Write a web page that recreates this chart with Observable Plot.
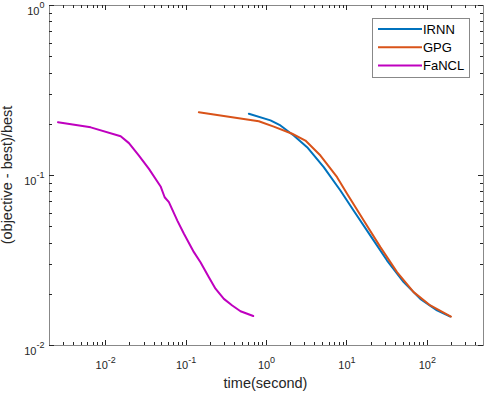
<!DOCTYPE html>
<html><head><meta charset="utf-8">
<script src="https://cdn.jsdelivr.net/npm/d3@7"></script>
<script src="https://cdn.jsdelivr.net/npm/@observablehq/plot@0.6"></script>
<style>body{margin:0;background:#fff} #chart{width:485px;height:393px}</style>
</head><body><div id="chart"></div>
<script>
const series = ["IRNN", "GPG", "FaNCL"];
const colors = ["#0072BD", "#D95319", "#BF00BF"];

const irnnTime  = [0.603, 1.121, 1.49, 2.18, 3.20, 5.15, 8.30, 12.1, 19.6, 31.6, 50.8, 81.8, 132, 193];
const irnnValue = [0.2307, 0.211, 0.197, 0.172, 0.1467, 0.112, 0.0816, 0.0623, 0.0443, 0.0316, 0.0236, 0.0188, 0.0161, 0.0148];

const gpgTime  = [0.144, 0.802, 1.232, 2.085, 3.05, 4.69, 7.55, 10.05, 16.2, 26.1, 42.0, 67.6, 109, 197];
const gpgValue = [0.2357, 0.2086, 0.194, 0.176, 0.1606, 0.131, 0.0977, 0.078, 0.0543, 0.0379, 0.0270, 0.0206, 0.0172, 0.0148];

const fanclTime  = [0.00255, 0.00651, 0.01536, 0.01946, 0.0259, 0.0345, 0.0482, 0.0541, 0.0611, 0.0778, 0.094, 0.125, 0.151, 0.192, 0.232, 0.295, 0.375, 0.475, 0.684];
const fanclValue = [0.206, 0.192, 0.170, 0.155, 0.131, 0.1094, 0.0862, 0.0745, 0.0697, 0.0543, 0.0454, 0.0354, 0.0309, 0.0252, 0.0216, 0.0188, 0.0172, 0.0159, 0.0149];

const xTicks = [0.01, 0.1, 1, 10, 100];
const xTickLabels = ["10^-2", "10^-1", "10^0", "10^1", "10^2"];
const yTicks = [0.01, 0.1, 1];
const yTickLabels = ["10^-2", "10^-1", "10^0"];
const xDomain = [0.002, 500];
const yDomain = [0.01, 1];
const xLabel = "time(second)";
const yLabel = "(objective - best)/best";

const times = [irnnTime, gpgTime, fanclTime];
const values = [irnnValue, gpgValue, fanclValue];
const rows = series.flatMap((s, i) => times[i].map((t, j) => ({series: s, time: t, value: values[i][j]})));

function minors(domain) {
  const out = [];
  for (let e = -4; e <= 3; e++) for (let k = 2; k <= 9; k++) {
    const v = k * Math.pow(10, e);
    if (v > domain[0] && v < domain[1]) out.push(v);
  }
  return out;
}
const xMinor = minors(xDomain), yMinor = minors(yDomain);

const W = 485, H = 393, ML = 49, MR = 2, MT = 5, MB = 48;
const tickStroke = "#262626";
const MAJ = 5, MIN = 3;

const chart = Plot.plot({
  width: W, height: H,
  marginLeft: ML, marginRight: MR, marginTop: MT, marginBottom: MB,
  style: {fontFamily: "'Liberation Sans', Arial, sans-serif", fontSize: "11px", color: "#262626"},
  x: {type: "log", domain: xDomain},
  y: {type: "log", domain: yDomain},
  color: {domain: series, range: colors},
  marks: [
    Plot.axisX({anchor: "bottom", ticks: xTicks, tickSize: 0, tickPadding: 16, tickFormat: (d) => xTickLabels[xTicks.indexOf(d)], label: null}),
    Plot.axisY({anchor: "left", ticks: yTicks, tickSize: 0, tickPadding: 5, dy: 5.5, tickFormat: (d) => yTickLabels[yTicks.indexOf(d)], label: null}),
    Plot.line(rows, {x: "time", y: "value", stroke: "series", z: "series", strokeWidth: 2}),
    Plot.frame({stroke: "#888888", fill: "none"})
  ]
});

document.getElementById("chart").appendChild(chart);
const svg = d3.select(chart);
const sx = chart.scale("x"), sy = chart.scale("y");
const x0 = ML, x1 = W - MR, y0 = MT, y1 = H - MB;

// inward tick marks on all four sides, positioned by Plot's scales
const tg = svg.append("g").attr("stroke", tickStroke).attr("stroke-width", 1).attr("fill", "none").attr("shape-rendering", "crispEdges");
function xTick(v, len) {
  const px = Math.round(sx.apply(v)) + 0.5;
  tg.append("path").attr("d", `M${px},${y1}V${y1 - len}M${px},${y0}V${y0 + len}`);
}
function yTick(v, len) {
  const py = Math.round(sy.apply(v)) + 0.5;
  tg.append("path").attr("d", `M${x0},${py}H${x0 + len}M${x1},${py}H${x1 - len}`);
}
xTicks.forEach(v => xTick(v, MAJ));
xMinor.forEach(v => xTick(v, MIN));
yTicks.forEach(v => yTick(v, MAJ));
yMinor.forEach(v => yTick(v, MIN));

// superscript exponents on tick labels
svg.selectAll("text").each(function() {
  const m = /^10\^(.+)$/.exec(this.textContent);
  if (m) {
    const s = d3.select(this);
    s.text(null);
    s.append("tspan").text("10");
    s.append("tspan").attr("dy", "-6.5").attr("font-size", "9px").text(m[1]);
  }
});

const FONT = "'Liberation Sans', Arial, sans-serif";
// axis titles
svg.append("text").attr("x", 265.5).attr("y", 388).attr("text-anchor", "middle")
  .attr("font-size", "14.5px").attr("fill", "#262626").attr("font-family", FONT).text(xLabel);
svg.append("text").attr("transform", "translate(12,175) rotate(-90)").attr("text-anchor", "middle")
  .attr("font-size", "14.5px").attr("fill", "#262626").attr("font-family", FONT).text(yLabel);

// legend
const lg = svg.append("g").attr("font-family", FONT).attr("font-size", "13px").attr("text-anchor", "start");
lg.append("rect").attr("x", 372.5).attr("y", 18.5).attr("width", 97).attr("height", 59).attr("fill", "#fff").attr("stroke", "#888888");
series.forEach((s, i) => {
  const y = 29 + i * 18.3;
  lg.append("line").attr("x1", 378).attr("x2", 422).attr("y1", y).attr("y2", y).attr("stroke", colors[i]).attr("stroke-width", 2);
  lg.append("text").attr("x", 423).attr("y", y + 4.6).attr("text-anchor", "start").attr("fill", "#000").text(s);
});
</script>
</body></html>
